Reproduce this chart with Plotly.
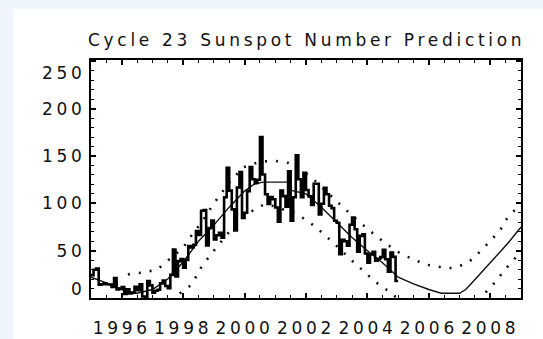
import plotly.graph_objects as go

# Monthly mean sunspot numbers, Jan 1995 - Dec 2004
monthly = [
    24.2, 29.9, 31.1, 14.0, 14.5, 15.6, 14.5, 14.3, 11.8, 21.1, 9.0, 10.0,     # 1995
    11.5, 4.4, 9.2, 4.8, 5.5, 11.8, 8.2, 14.4, 1.6, 0.9, 17.9, 13.3,           # 1996
    5.7, 7.6, 8.7, 15.5, 18.5, 12.7, 10.4, 24.4, 51.3, 22.8, 39.0, 41.2,       # 1997
    31.9, 40.3, 54.8, 53.4, 56.3, 70.7, 66.6, 92.2, 92.9, 55.5, 74.0, 81.9,    # 1998
    62.0, 66.3, 68.8, 63.7, 106.4, 137.7, 113.5, 93.7, 71.5, 116.7, 133.2, 84.6,  # 1999
    90.1, 112.9, 138.5, 125.5, 121.6, 124.9, 170.1, 130.5, 109.7, 99.4, 106.8, 104.4,  # 2000
    95.6, 80.6, 113.5, 107.7, 96.6, 134.0, 81.8, 106.4, 150.7, 125.5, 106.5, 132.2,  # 2001
    114.1, 107.4, 98.4, 120.7, 120.8, 88.3, 99.6, 116.4, 109.6, 97.5, 95.0, 81.6,  # 2002
    79.5, 46.2, 61.5, 60.0, 55.2, 77.4, 85.0, 72.7, 48.8, 65.6, 67.2, 47.0,    # 2003
    37.2, 46.0, 48.9, 39.3, 41.5, 43.2, 51.0, 40.9, 27.7, 48.0, 43.5, 17.9,    # 2004
]
start_year = 1995.0

# Predicted (smoothed) cycle curve
pred_year = [1995.0, 1995.5, 1996.0, 1996.5, 1997.0, 1997.5, 1998.0, 1998.5,
             1999.0, 1999.5, 2000.0, 2000.3, 2000.6, 2001.4, 2001.5, 2002.0,
             2002.5, 2003.0, 2003.5, 2004.0, 2004.5, 2005.0, 2005.5, 2006.0,
             2006.4, 2007.0, 2007.2, 2007.57, 2007.9, 2008.22, 2008.55, 2009.0]
pred_value = [22, 16, 9, 5, 9, 20, 38, 60,
              77, 96, 113, 120, 122.5, 122.5, 114, 110,
              96, 80, 64, 50, 37, 22, 15, 9,
              5, 5, 9, 22, 34, 45, 57, 75]

# Upper and lower limits of the prediction
upper_year = [1996.2, 1996.7, 1997.15, 1998.0, 1998.2, 1998.6, 1999.0, 1999.5,
              1999.95, 2000.5, 2001.0, 2001.43, 2002.09, 2002.6, 2003.12, 2003.44,
              2004.0, 2004.5, 2004.84, 2005.18, 2005.53, 2005.85, 2006.27, 2006.59,
              2006.97, 2007.3, 2007.7, 2008.09, 2008.35, 2008.49, 2008.74, 2009.0]
upper_value = [25, 27, 30, 53, 63, 80, 100, 122,
               138, 144, 145, 142.6, 130, 114, 98.6, 89,
               73, 60, 52, 45, 40.8, 35.5, 33.4, 31,
               33.4, 38, 50, 63.4, 73.2, 82, 90.8, 100]

lower_year = [1997.6, 1997.9, 1998.23, 1998.4, 1998.61, 1999.05, 1999.5, 2000.0,
              2000.33, 2000.62, 2001.0, 2001.3, 2001.7, 2002.3, 2002.87, 2003.43,
              2004.0, 2004.26, 2004.58, 2004.9, 2005.2, 2007.5, 2007.75, 2007.95,
              2008.22, 2008.44, 2008.71, 2009.0]
lower_value = [-2, 5, 13, 21.4, 33.8, 52, 70, 86,
               94, 98.6, 97, 93, 89, 75.6, 59, 41.5,
               25, 17, 9.8, 2, -6, -6, 2, 9.8,
               18.6, 29, 38, 50]

x_ticks = [1996, 1998, 2000, 2002, 2004, 2006, 2008]
y_ticks = [0, 50, 100, 150, 200, 250]
title_text = "Cycle 23 Sunspot Number Prediction"

SPACING = "letter-spacing:3.7px"


def spaced(s):
    return f'<span style="{SPACING}">{s}</span>'


# month-start positions plus the closing edge of the last month (staircase)
month_x = [start_year + i / 12 for i in range(len(monthly))] + [start_year + len(monthly) / 12]
month_y = monthly + [monthly[-1]]

fig = go.Figure()

fig.add_trace(go.Scatter(x=upper_year, y=upper_value, mode="lines",
                         line=dict(color="#111", width=2.6, dash="2px,9px"),
                         hoverinfo="skip"))
fig.add_trace(go.Scatter(x=lower_year, y=lower_value, mode="lines",
                         line=dict(color="#111", width=2.6, dash="2px,9px"),
                         hoverinfo="skip"))
fig.add_trace(go.Scatter(x=pred_year, y=pred_value, mode="lines",
                         line=dict(color="#111", width=1.4)))
fig.add_trace(go.Scatter(x=month_x, y=month_y, mode="lines", line_shape="hv",
                         line=dict(color="#000", width=2.6)))

L, R, T, B = 91, 22, 60, 41
W, H = 543, 339
pw, ph = W - L - R, H - T - B

# pale blue page edge along the left and top
EDGE = "#eef5fc"
fig.add_shape(type="rect", xref="paper", yref="paper", layer="below",
              x0=-L / pw - 0.05, x1=(13 - L) / pw, y0=-B / ph - 0.05, y1=(H - B) / ph + 0.05,
              line=dict(width=0), fillcolor=EDGE)
fig.add_shape(type="rect", xref="paper", yref="paper", layer="below",
              x0=-L / pw - 0.05, x1=(W - L) / pw + 0.05, y0=(H - B - 9) / ph, y1=(H - B) / ph + 0.05,
              line=dict(width=0), fillcolor=EDGE)

fig.add_annotation(text=spaced(title_text), xref="paper", yref="paper",
                   x=0.5, y=1 + (T - 40) / ph, xanchor="center", yanchor="middle",
                   showarrow=False, font=dict(size=17, color="#111"))

# end labels of the count axis sit just inside the frame
label_font = dict(family="DejaVu Sans", size=17, color="#111")
end_labels = {y_ticks[0]: 289, y_ticks[-1]: 73}
for val, py in end_labels.items():
    fig.add_annotation(text=spaced(str(val)), xref="paper", yref="paper",
                       x=(87 - L) / pw, y=(T + ph - py) / ph,
                       xanchor="right", yanchor="middle", showarrow=False,
                       borderpad=0, font=label_font)

axis_common = dict(showgrid=False, zeroline=False, showline=True, linewidth=2,
                   linecolor="#000", mirror="ticks", ticks="inside",
                   tickcolor="#000", tickwidth=1.5, automargin=False,
                   tickfont=label_font)

fig.update_xaxes(range=[1995, 2009], tickvals=x_ticks,
                 ticktext=[spaced(str(v)) for v in x_ticks], ticklen=5,
                 ticklabelstandoff=14,
                 minor=dict(dtick=0.5, tick0=1995, ticks="inside", ticklen=3,
                            tickcolor="#000", tickwidth=1.2),
                 **axis_common)
fig.update_yaxes(range=[0, 251.5], tickvals=y_ticks,
                 ticktext=["" if v in end_labels else spaced(str(v)) for v in y_ticks],
                 ticklen=5,
                 minor=dict(dtick=10, tick0=0, ticks="inside", ticklen=3,
                            tickcolor="#000", tickwidth=1.2),
                 **axis_common)

fig.update_layout(width=W, height=H, margin=dict(l=L, r=R, t=T, b=B),
                  paper_bgcolor="white", plot_bgcolor="white",
                  showlegend=False,
                  font=dict(family="DejaVu Sans", color="#111"))

fig.write_html("out.html")
